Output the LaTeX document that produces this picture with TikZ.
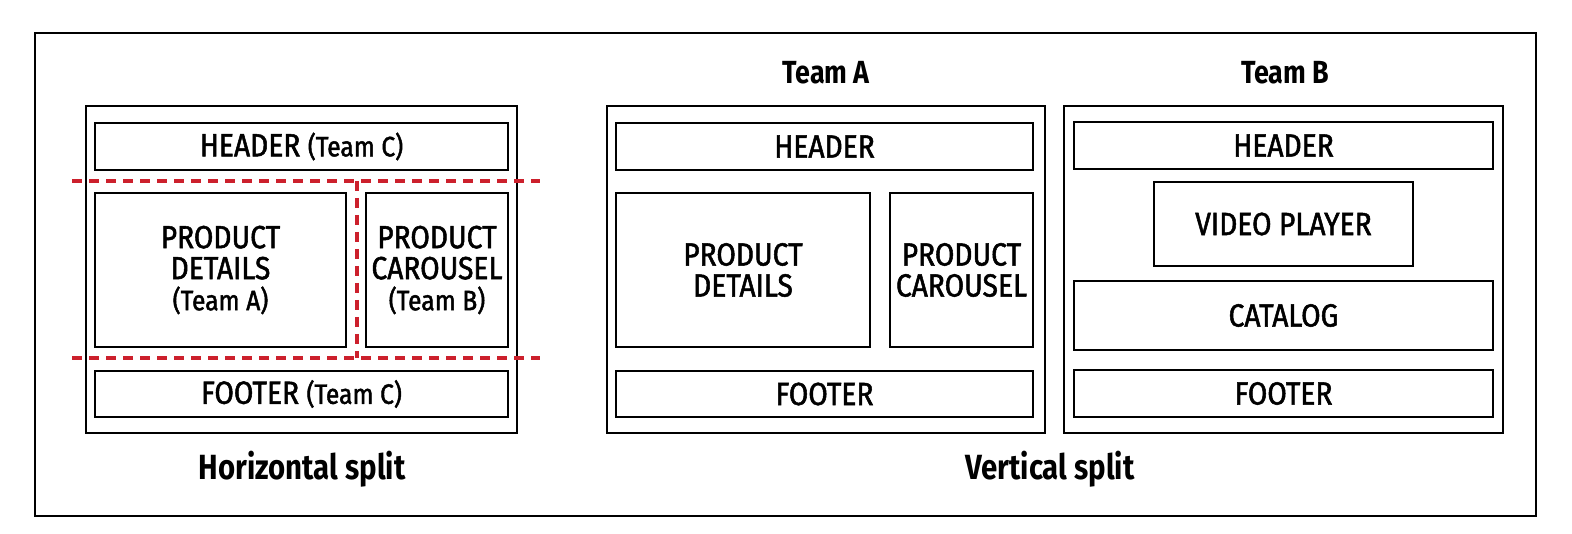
\documentclass[tikz,border=0pt]{standalone}
\usepackage{fontspec}
\setmainfont{Fira Sans}[FakeStretch=0.84]
\newfontfamily\boxfamily{Fira Sans}[FakeStretch=0.88, FakeBold=1.6]
\usetikzlibrary{positioning}

\definecolor{splitred}{RGB}{204,32,44}
\newcommand\partfont{\boxfamily\fontsize{32}{31}\selectfont}
\newcommand\teamfont{\fontsize{28}{31}\selectfont}

\tikzset{
  page/.style={draw, line width=2pt, minimum width=#1, minimum height=327pt, inner sep=0pt},
  part/.style={draw, line width=2pt, inner sep=0pt, align=center, font=\partfont},
  caption/.style={font=\fontsize{32}{34}\selectfont\bfseries},
  split/.style={draw=splitred, line width=3.5pt, dash pattern=on 10pt off 7pt}
}

\begin{document}
\begin{tikzpicture}[x=1pt, y=-1pt, align=center]
\useasboundingbox (0,0) rectangle (1572,534);
% Frame round everything
\node (frame) [draw, line width=1.3pt, minimum width=1501pt, minimum height=483pt] at (785.5,274.5) {};

% Horizontal split
\node (h-page)      [page=431pt]                                          at (301.5,269.5) {};
\node (h-header)    [part, minimum width=413pt, minimum height=47pt]     at (301.5,146.5) {HEADER {\teamfont(Team C)}};
\node (h-details)   [part, minimum width=251pt, minimum height=154pt]    at (220.5,270)   {PRODUCT\\DETAILS\\{\teamfont(Team A)}};
\node (h-carousel)  [part, minimum width=142pt, minimum height=154pt]    at (437,270)     {PRODUCT\\CAROUSEL\\{\teamfont(Team B)}};
\node (h-footer)    [part, minimum width=413pt, minimum height=46pt]     at (301.5,394)   {FOOTER {\teamfont(Team C)}};

\draw[split] (72,181) -- (540,181);
\draw[split] (72,358) -- (540,358);
\draw[split] (357,181) -- (357,358);

\node (h-caption)   [caption, font=\fontsize{35}{38}\selectfont\bfseries] at (302,469) {Horizontal split};

% Vertical split, Team A
\node (a-title)     [caption]                                            at (826,73)      {Team A};
\node (a-page)      [page=438pt]                                         at (826,269.5)   {};
\node (a-header)    [part, minimum width=417pt, minimum height=47pt]     at (824.5,146.5) {HEADER};
\node (a-details)   [part, minimum width=254pt, minimum height=154pt]    at (743,270)     {PRODUCT\\DETAILS};
\node (a-carousel)  [part, minimum width=143pt, minimum height=154pt]    at (961.5,270)   {PRODUCT\\CAROUSEL};
\node (a-footer)    [part, minimum width=417pt, minimum height=46pt]     at (824.5,394)   {FOOTER};

% Vertical split, Team B
\node (b-title)     [caption]                                            at (1285,73)     {Team B};
\node (b-page)      [page=439pt]                                         at (1283.5,269.5) {};
\node (b-header)    [part, minimum width=419pt, minimum height=47pt]     at (1283.5,145.5) {HEADER};
\node (b-video)     [part, minimum width=259pt, minimum height=84pt]     at (1283.5,224)  {VIDEO PLAYER};
\node (b-catalog)   [part, minimum width=419pt, minimum height=69pt]     at (1283.5,315.5) {CATALOG};
\node (b-footer)    [part, minimum width=419pt, minimum height=47pt]     at (1283.5,393.5) {FOOTER};

\node (v-caption)   [caption, font=\fontsize{35}{38}\selectfont\bfseries] at (1050,469) {Vertical split};

\end{tikzpicture}
\end{document}
